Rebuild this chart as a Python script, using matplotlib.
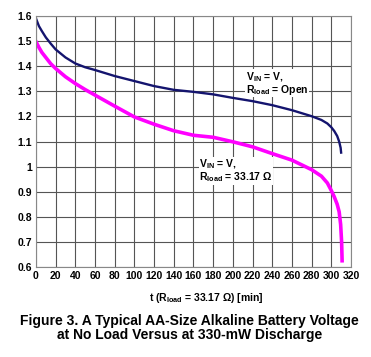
import numpy as np
import matplotlib
matplotlib.use('Agg')
import matplotlib.pyplot as plt

plt.rcParams['font.family'] = ['Liberation Sans', 'DejaVu Sans']
plt.rcParams['font.weight'] = 'bold'
plt.rcParams['axes.labelweight'] = 'bold'
plt.rcParams['mathtext.fontset'] = 'custom'
plt.rcParams['mathtext.rm'] = 'Liberation Sans:bold'
plt.rcParams['mathtext.it'] = 'Liberation Sans:bold'
plt.rcParams['mathtext.bf'] = 'Liberation Sans:bold'

# open circuit (no load)
t_open = [0, 3, 6, 10, 15, 20, 30, 40, 50, 60, 80, 100, 120, 140, 160, 180, 200,
          220, 240, 260, 280, 290, 296, 300, 303, 306, 308, 309.5, 310]
v_open = [1.59, 1.56, 1.54, 1.515, 1.49, 1.467, 1.435, 1.411, 1.396, 1.385, 1.361,
          1.341, 1.321, 1.306, 1.298, 1.288, 1.274, 1.261, 1.245, 1.225, 1.201,
          1.186, 1.172, 1.157, 1.142, 1.122, 1.10, 1.075, 1.056]

# 33.17 ohm load
t_load = [0, 3, 6, 10, 15, 20, 30, 40, 50, 60, 80, 100, 120, 140, 160, 180, 200,
          220, 240, 260, 280, 290, 296, 300, 303, 306, 308, 309.5, 310.5, 311]
v_load = [1.498, 1.475, 1.455, 1.435, 1.41, 1.391, 1.358, 1.331, 1.307, 1.285,
          1.241, 1.198, 1.169, 1.143, 1.125, 1.117, 1.099, 1.079, 1.052, 1.026,
          0.988, 0.962, 0.935, 0.905, 0.88, 0.85, 0.82, 0.77, 0.70, 0.625]

xticks = np.arange(0, 321, 20)
yticks = np.round(np.arange(0.6, 1.61, 0.1), 1)

fig = plt.figure(figsize=(3.71, 3.57), dpi=100)
ax = fig.add_axes([0.097, 0.252, 0.849, 0.703])

ax.plot(t_open, v_open, color='#14146e', lw=1.7)
ax.plot(t_load, v_load, color='#ff00ff', lw=2.6)

ax.set_xlim(0, 320)
ax.set_ylim(0.6, 1.6)
ax.set_xticks(xticks)
ax.set_yticks(yticks)
ax.set_yticklabels([f'{v:g}' for v in yticks])
ax.tick_params(labelsize=7.5, length=0, pad=3)
ax.grid(True, color='#555555', lw=0.8)
for s in ax.spines.values():
    s.set_color('#888888')
    s.set_linewidth(0.8)

lbl_open = 'V$_{\\rm IN}$ = V,\nR$_{\\rm load}$ = Open'
lbl_load = 'V$_{\\rm IN}$ = V,\nR$_{\\rm load}$ = 33.17 Ω'
ax.text(213, 1.385, lbl_open, fontsize=7.5, linespacing=0.9, va='top', ha='left',
        bbox=dict(facecolor='white', edgecolor='none', pad=0.5))
ax.text(166, 1.035, lbl_load, fontsize=7.5, linespacing=0.9, va='top', ha='left',
        bbox=dict(facecolor='white', edgecolor='none', pad=0.5))

ax.set_xlabel('t (R$_{\\rm load}$ = 33.17 Ω) [min]', fontsize=7.5, labelpad=7)
ax.xaxis.label.set_x(0.54)

fig.text(0.51, 0.08, 'Figure 3. A Typical AA-Size Alkaline Battery Voltage\n'
         'at No Load Versus at 330-mW Discharge', ha='center', va='center',
         fontsize=10, linespacing=1.0)

fig.savefig('out.png', dpi=100)
